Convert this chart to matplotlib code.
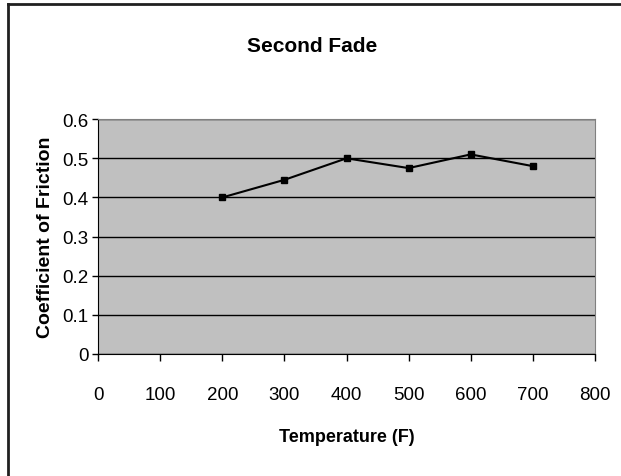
import matplotlib
matplotlib.use("Agg")
import matplotlib.pyplot as plt
from matplotlib.lines import Line2D

plt.rcParams['font.family'] = ['Liberation Sans', 'DejaVu Sans']

temperature = [200, 300, 400, 500, 600, 700]
friction = [0.40, 0.445, 0.50, 0.475, 0.51, 0.48]
x_ticks = [0, 100, 200, 300, 400, 500, 600, 700, 800]
y_ticks = [0, 0.1, 0.2, 0.3, 0.4, 0.5, 0.6]

fig = plt.figure(figsize=(6.21, 4.77), dpi=100)
ax = fig.add_axes([0.158, 0.256, 0.800, 0.492])
ax.set_facecolor('#C0C0C0')

ax.plot(temperature, friction, color='black', linewidth=1.5,
        marker='s', markersize=4.5, markerfacecolor='black', zorder=3)

ax.set_xlim(0, 800)
ax.set_ylim(0, 0.6)
ax.set_xticks(x_ticks)
ax.set_yticks(y_ticks)
ax.set_xticklabels([str(t) for t in x_ticks])
ax.set_yticklabels(['0'] + [f"{v:.1f}" for v in y_ticks[1:]])
ax.yaxis.grid(True, color='black', linewidth=1)
ax.set_axisbelow(True)

ax.tick_params(axis='x', direction='out', length=5, width=1, pad=18, labelsize=13.5)
ax.tick_params(axis='y', direction='out', length=4, width=1, pad=3, labelsize=13.5)

for side in ['top', 'right']:
    ax.spines[side].set_color('#808080')
for side in ['left', 'bottom']:
    ax.spines[side].set_color('black')

fig.text(0.502, 0.903, "Second Fade", fontsize=15, fontweight='bold',
         ha='center', va='center')
ax.set_xlabel("Temperature (F)", fontsize=13, fontweight='bold', labelpad=18)
ax.set_ylabel("Coefficient of Friction", fontsize=14, fontweight='bold', labelpad=6)

# outer chart frame (top and left edges visible)
fig.add_artist(Line2D([0.013, 0.013], [0, 0.990], color='#202020', linewidth=2,
                      transform=fig.transFigure))
fig.add_artist(Line2D([0.013, 1.0], [0.990, 0.990], color='#202020', linewidth=2,
                      transform=fig.transFigure))

fig.savefig("out.png", dpi=100)
